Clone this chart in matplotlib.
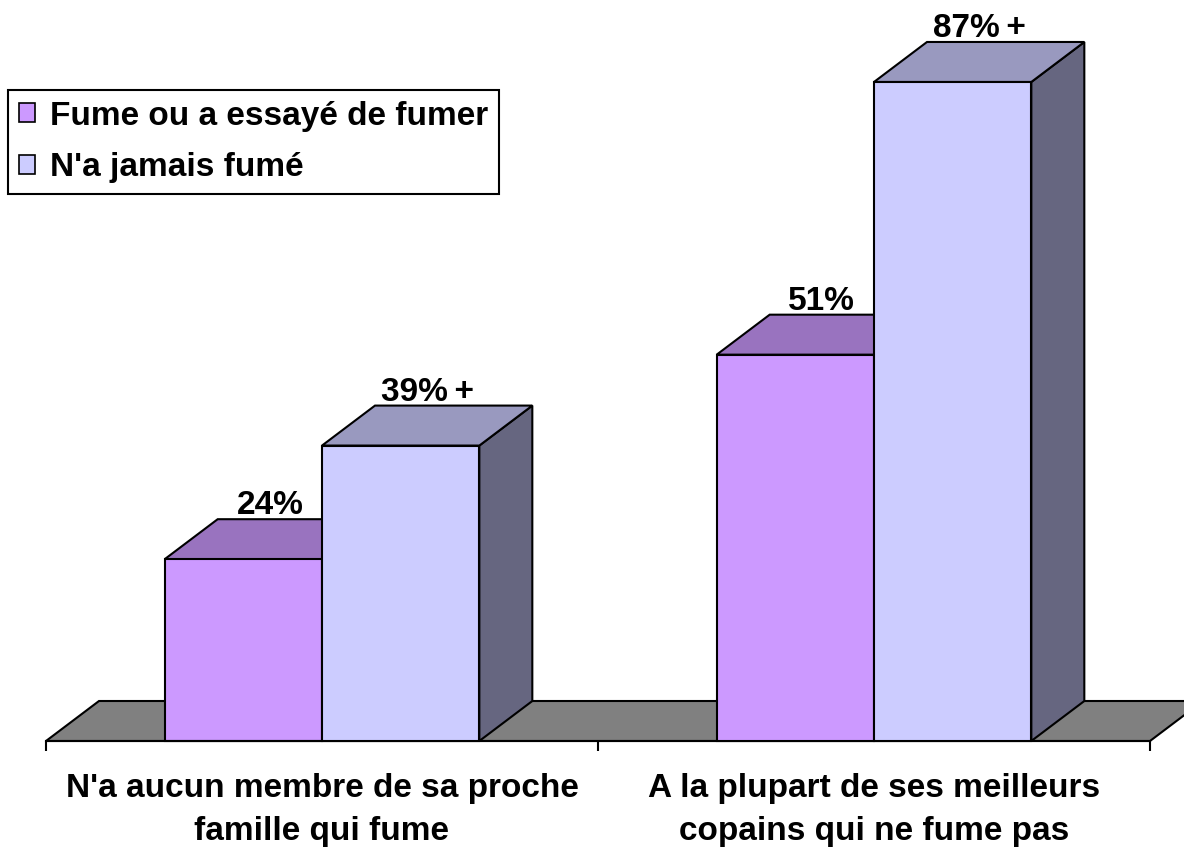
import numpy as np
import matplotlib
matplotlib.use("Agg")
import matplotlib.pyplot as plt
from matplotlib.patches import Polygon, Patch
from matplotlib.transforms import IdentityTransform

matplotlib.rcParams['font.family'] = ['Liberation Sans', 'DejaVu Sans']
matplotlib.rcParams['font.weight'] = 'bold'

categories = ["N'a aucun membre de sa proche\nfamille qui fume",
              "A la plupart de ses meilleurs\ncopains qui ne fume pas"]
series = ["Fume ou a essayé de fumer", "N'a jamais fumé"]
smokers = [24, 51]
never = [39, 87]
value_labels = [["24%", "51%"], ["39%\u2009+", "87%\u2009+"]]

# front / top / side colours for each series
front_cols = ["#CC99FF", "#CCCCFF"]
top_cols = ["#9973BF", "#9999BF"]
side_cols = ["#664D80", "#666680"]
floor_col = "#808080"

W, H = 1184, 847
fig = plt.figure(figsize=(W / 100, H / 100), dpi=100)
ax = fig.add_axes([46 / W, 106 / H, 1104 / W, 90 * 7.575 / H])
ax.set_xlim(0, 2)
ax.set_ylim(0, 90)
for s in ["top", "left", "right"]:
    ax.spines[s].set_visible(False)
ax.spines["bottom"].set_linewidth(1.5)
ax.set_yticks([])
ax.set_xticks([0, 1, 2])
ax.set_xticklabels([])
ax.tick_params(axis="x", which="major", length=7, width=1.5, direction="out")
ax.set_xticks([0.5, 1.5], minor=True)
ax.set_xticklabels(categories, minor=True, fontsize=24, fontweight="bold", linespacing=1.5)
ax.tick_params(axis="x", which="minor", length=0, pad=23)

# 3d depth offset in pixels
ddx, ddy = 53, 40
lw = 1.5
ident = IdentityTransform()


def poly(pts, color, z):
    p = Polygon(pts, closed=True, facecolor=color, edgecolor="black", linewidth=lw,
                transform=ident, clip_on=False, zorder=z, joinstyle="miter")
    ax.add_artist(p)


def to_disp(x, y):
    return ax.transData.transform((x, y))


# floor
f0 = to_disp(0, 0)
f1 = to_disp(2, 0)
poly([f0, f1, f1 + [ddx, ddy], f0 + [ddx, ddy]], floor_col, 1)

bar_w = 0.285
centers = np.arange(len(categories)) + 0.5
z = 2
for i, c in enumerate(centers):
    for j, vals in enumerate([smokers, never]):
        v = vals[i]
        x0 = c - bar_w if j == 0 else c
        x1 = x0 + bar_w
        bl = to_disp(x0, 0)
        br = to_disp(x1, 0)
        tl = to_disp(x0, v)
        tr = to_disp(x1, v)
        off = np.array([ddx, ddy])
        poly([br, br + off, tr + off, tr], side_cols[j], z)
        poly([tl, tr, tr + off, tl + off], top_cols[j], z)
        poly([bl, br, tr, tl], front_cols[j], z)
        z += 1
        ax.annotate(value_labels[j][i], xy=((x0 + x1) / 2, v),
                    xytext=(ddx / 2 * 0.72, ddy * 0.72 - 1.5), textcoords="offset points",
                    ha="center", va="bottom", fontsize=24, fontweight="bold", zorder=20)

handles = [Patch(facecolor=front_cols[k], edgecolor="black", linewidth=1.2) for k in range(2)]
leg = fig.legend(handles, series, loc="upper left", bbox_to_anchor=(8 / W, 1 - 90 / H),
                 borderaxespad=0, fancybox=False, framealpha=1, edgecolor="black",
                 prop={"size": 24, "weight": "bold"}, handlelength=0.5, handleheight=0.5,
                 handletextpad=0.45, labelspacing=0.62, borderpad=0.32)
leg.get_frame().set_linewidth(1.5)

fig.savefig("out.png", dpi=100)
